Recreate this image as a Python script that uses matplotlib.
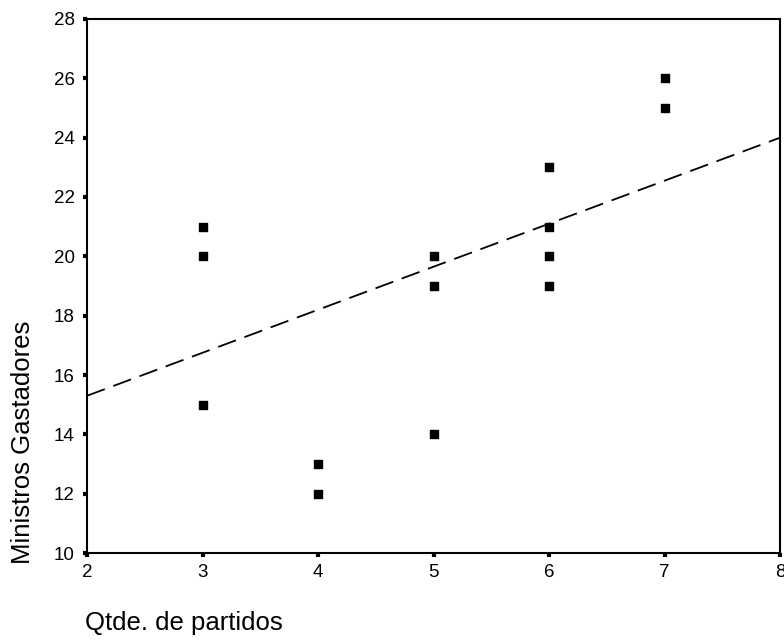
import matplotlib
matplotlib.use("Agg")
import matplotlib.pyplot as plt

plt.rcParams['font.family'] = ['Liberation Sans', 'DejaVu Sans']

partidos = [3, 3, 3, 4, 4, 5, 5, 5, 6, 6, 6, 6, 7, 7]
ministros = [21, 20, 15, 13, 12, 20, 19, 14, 23, 21, 20, 19, 26, 25]

fit_x = [2, 3, 4, 5, 6, 7, 8]
fit_y = [15.3, 16.75, 18.2, 19.65, 21.1, 22.55, 24.0]

xticks = [2, 3, 4, 5, 6, 7, 8]
yticks = [10, 12, 14, 16, 18, 20, 22, 24, 26, 28]

fig = plt.figure(figsize=(7.84, 6.44), dpi=100)
ax = fig.add_axes([0.111, 0.1413, 0.884, 0.8292])

ax.plot(fit_x, fit_y, color='black', linestyle=(0, (10.5, 5)), linewidth=1.3)
ax.scatter(partidos, ministros, marker='s', s=40, color='black', zorder=3)

ax.set_xlim(2, 8)
ax.set_ylim(10, 28)
ax.set_xticks(xticks)
ax.set_yticks(yticks)
ax.set_xticklabels([str(v) for v in xticks])
ax.set_yticklabels([str(v) for v in yticks])
ax.tick_params(axis='both', direction='out', length=3, width=3, labelsize=13.5)
ax.tick_params(axis='y', pad=6)
ax.tick_params(axis='x', pad=5)
for s in ax.spines.values():
    s.set_linewidth(1.5)

fig.text(0.029, 0.313, 'Ministros Gastadores', rotation=90, fontsize=18.5,
         ha='center', va='center')
fig.text(0.109, 0.022, 'Qtde. de partidos', fontsize=18.5, ha='left', va='baseline')

fig.savefig('out.png', dpi=100)
